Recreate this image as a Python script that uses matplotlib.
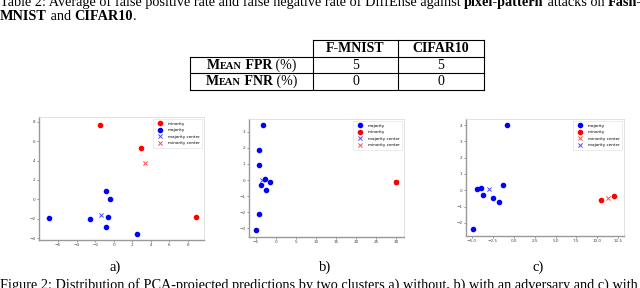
import matplotlib
matplotlib.use("Agg")
import matplotlib.pyplot as plt
from matplotlib.lines import Line2D

W, H = 640, 288
SERIF = "Liberation Serif"

# ---------------- data ----------------
table_cols = ["F-MNIST", "CIFAR10"]
table_rows = ["FPR", "FNR"]
table_vals = [["5", "5"], ["0", "0"]]

# panel a) without adversary
a_min_x = [-1.5, 2.9, 8.9]
a_min_y = [7.7, 5.3, -1.8]
a_maj_x = [-6.96, -2.55, -0.83, -0.4, -0.6, -0.8, 2.5]
a_maj_y = [-1.9, -2.06, 0.82, 0.0, -1.8, -2.9, -3.6]
a_majc = (-1.4, -1.65)
a_minc = (3.4, 3.75)

# panel b) with an adversary
b_maj_x = [-3.2, -4.3, -4.25, -2.7, -1.5, -3.7, -2.4, -4.3, -5.1]
b_maj_y = [3.44, 1.9, 0.96, 0.08, -0.12, -0.31, -0.65, -2.1, -3.1]
b_min_x = [30.0]
b_min_y = [-0.12]
b_majc = (-3.6, 0.0)
b_minc = (30.0, -0.12)

# panel c)
c_maj_x = [-0.84, -4.44, -3.88, -1.28, -3.68, -2.52, -1.73, -4.84]
c_maj_y = [4.0, 0.06, 0.17, 0.35, -0.31, -0.45, -0.7, -2.4]
c_min_x = [10.5, 12.06]
c_min_y = [-0.57, -0.37]
c_minc = (11.3, -0.45)
c_majc = (-2.93, 0.06)

fig = plt.figure(figsize=(6.4, 2.88), dpi=100)
renderer = fig.canvas.get_renderer()


def fx(x):
    return x / W


def fy(y):
    return 1 - y / H


def rich(pieces, x, y, ha="left"):
    texts, widths = [], []
    for s, size, weight in pieces:
        t = fig.text(0, fy(y), s, fontsize=size, fontweight=weight,
                     family=SERIF, va="baseline", ha="left")
        texts.append(t)
        widths.append(t.get_window_extent(renderer).width)
    total = sum(widths)
    cur = x if ha == "left" else x - total / 2
    for t, w in zip(texts, widths):
        t.set_x(fx(cur))
        cur += w


def hline(x1, x2, y):
    fig.add_artist(Line2D([fx(x1), fx(x2)], [fy(y), fy(y)], transform=fig.transFigure,
                          color="black", lw=0.8))


def vline(x, y1, y2):
    fig.add_artist(Line2D([fx(x), fx(x)], [fy(y1), fy(y2)], transform=fig.transFigure,
                          color="black", lw=0.8))


FS = 10.3
# ---------------- top text ----------------
rich([("Table 2: Average of false positive rate and false negative rate of DiffEnse against ", FS, "normal"),
      ("pixel-pattern", FS, "bold"), (" attacks on ", FS, "normal"), ("Fash-", FS, "bold")], 0, 6)
rich([("MNIST", FS, "bold"), (" and ", FS, "normal"), ("CIFAR10", FS, "bold"), (".", FS, "normal")], 0, 20)

# ---------------- table ----------------
xl, x1, x2, xr = 190, 313, 398, 484
yt, yh, y1, yb = 40, 56.5, 73, 89.5
hline(x1, xr, yt)
hline(xl, xr, yh)
hline(xl, xr, y1)
hline(xl, xr, yb)
vline(xl, yh, yb)
for xv in (x1, x2, xr):
    vline(xv, yt, yb)

TF = 10
col_c = [(x1 + x2) / 2, (x2 + xr) / 2]
for c, name in zip(col_c, table_cols):
    rich([(name, TF, "bold")], c, (yt + yh) / 2 + 4, ha="center")
row_y = [(yh + y1) / 2 + 4, (y1 + yb) / 2 + 4]
for ry, rname, vals in zip(row_y, table_rows, table_vals):
    rich([("M", TF, "bold"), ("EAN", TF * 0.75, "bold"), (" " + rname, TF, "bold"),
          (" (%)", TF, "normal")], (xl + x1) / 2, ry, ha="center")
    for c, v in zip(col_c, vals):
        rich([(v, TF, "normal")], c, ry, ha="center")


# ---------------- scatter panels ----------------
def panel(rect, xlim, ylim, xticks, yticks):
    l, r, t, b = rect
    ax = fig.add_axes([fx(l), fy(b), (r - l) / W, (b - t) / H])
    ax.set_xlim(*xlim)
    ax.set_ylim(*ylim)
    ax.set_xticks(xticks)
    ax.set_yticks(yticks)
    ax.tick_params(labelsize=3, length=1.5, width=0.4, pad=1, colors="#444444")
    for side, sp in ax.spines.items():
        sp.set_color("#999999" if side in ("left", "bottom") else "#dddddd")
        sp.set_linewidth(1.0 if side in ("left", "bottom") else 0.6)
    return ax


S = 9
KW_LEG = dict(loc="upper right", fontsize=3, borderpad=0.6, labelspacing=0.6,
              handletextpad=0.8, framealpha=1, edgecolor="#dddddd", fancybox=False)

ax = panel((39, 204, 117, 240), (-8.05, 9.72), (-4.2, 8.49), range(-6, 9, 2), range(-4, 9, 2))
ax.scatter(a_min_x, a_min_y, s=S, c="red", label="minority")
ax.scatter(a_maj_x, a_maj_y, s=S, c="blue", label="majority")
ax.scatter([a_majc[0]], [a_majc[1]], s=S, c="blue", marker="x", lw=0.7, alpha=0.7, label="majority center")
ax.scatter([a_minc[0]], [a_minc[1]], s=S, c="red", marker="x", lw=0.7, alpha=0.7, label="minority center")
ax.legend(**KW_LEG).get_frame().set_linewidth(0.4)

ax = panel((249, 404, 119, 237), (-6.75, 32), (-3.56, 3.81), range(-5, 31, 5), range(-3, 4))
ax.scatter(b_maj_x, b_maj_y, s=S, c="blue", label="majority")
ax.scatter(b_min_x, b_min_y, s=S, c="red", label="minority")
ax.scatter([b_majc[0]], [b_majc[1]], s=S, c="blue", marker="x", lw=0.7, alpha=0.7, label="majority center")
ax.scatter([b_minc[0]], [b_minc[1]], s=S, c="red", marker="x", lw=0.7, alpha=0.7, label="minority center")
ax.legend(**KW_LEG).get_frame().set_linewidth(0.4)

ax = panel((466, 624, 119, 236), (-5.72, 13.2), (-2.8, 4.37),
           [-5.0, -2.5, 0.0, 2.5, 5.0, 7.5, 10.0, 12.5], range(-2, 5))
ax.scatter(c_maj_x, c_maj_y, s=S, c="blue", label="majority")
ax.scatter(c_min_x, c_min_y, s=S, c="red", label="minority")
ax.scatter([c_minc[0]], [c_minc[1]], s=S, c="red", marker="x", lw=0.7, alpha=0.7, label="minority center")
ax.scatter([c_majc[0]], [c_majc[1]], s=S, c="blue", marker="x", lw=0.7, alpha=0.7, label="majority center")
ax.legend(**KW_LEG).get_frame().set_linewidth(0.4)

# ---------------- captions ----------------
for lab, cx in (("a)", 115), ("b)", 325), ("c)", 538)):
    rich([(lab, 10.5, "normal")], cx, 271, ha="center")
rich([("Figure 2: Distribution of PCA-projected predictions by two clusters a) without, b) with an adversary and c) with",
       FS, "normal")], 0, 289)

fig.savefig("out.png", dpi=100)
